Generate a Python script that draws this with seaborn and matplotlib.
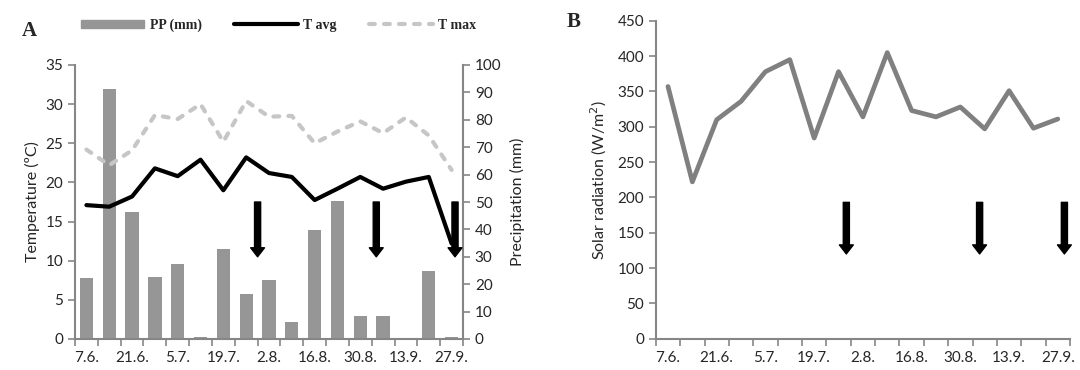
import seaborn as sns
import matplotlib.pyplot as plt
import matplotlib.patches as mpatches
import matplotlib.lines as mlines
import pandas as pd
import numpy as np

# weekly dates (labels shown for every second week)
dates = ["7.6.", "14.6.", "21.6.", "28.6.", "5.7.", "12.7.", "19.7.", "26.7.", "2.8.",
         "9.8.", "16.8.", "23.8.", "30.8.", "6.9.", "13.9.", "20.9.", "27.9."]
pp_mm = [22.3, 91.2, 46.4, 22.6, 27.4, 0.7, 32.8, 16.4, 21.5,
         6.2, 39.8, 50.3, 8.4, 8.4, 0.0, 24.8, 0.7]
t_avg = [17.1, 16.9, 18.2, 21.8, 20.8, 22.9, 19.0, 23.2, 21.2,
         20.7, 17.75, 19.2, 20.7, 19.2, 20.1, 20.7, 12.2]
t_max = [24.2, 22.2, 24.1, 28.6, 28.1, 30.0, 25.2, 30.4, 28.4,
         28.5, 25.0, 26.5, 27.8, 26.3, 28.3, 26.0, 21.6]
solar = [357, 222, 310, 336, 378, 395, 284, 378, 314,
         405, 323, 314, 328, 297, 351, 298, 311]

# sampling arrows (x position in week index)
arrows_a = [7.5, 12.7, 16.15]
arrows_b = [7.32, 12.79, 16.27]

df = pd.DataFrame({"date": dates, "pp": pp_mm, "tavg": t_avg, "tmax": t_max, "solar": solar})
df["pos"] = np.arange(len(dates))

sns.set_style("ticks")
plt.rcParams['font.family'] = ['Lato', 'DejaVu Sans']

axis_grey = "#868686"
bar_grey = "#969696"
tmax_grey = "#c6c6c6"
tmax_dash = (0, (1.4, 2.2))

fig = plt.figure(figsize=(10.8, 3.7), dpi=100)
ax = fig.add_axes([75/1080, 1-339/370, (463-75)/1080, (339-65)/370])
ax2 = ax.twinx()

# precipitation bars on the right axis
sns.barplot(data=df, x="date", y="pp", order=dates, ax=ax2, color=bar_grey,
            saturation=1, width=0.58, linewidth=0)
# temperatures on the left axis
sns.lineplot(data=df, x="pos", y="tavg", ax=ax, color="black", lw=3.0)
sns.lineplot(data=df, x="pos", y="tmax", ax=ax, color=tmax_grey, lw=3.0,
             linestyle=tmax_dash, dash_capstyle="round")

ax.set_zorder(ax2.get_zorder() + 1)
ax.patch.set_visible(False)

ax.set_ylim(0, 35)
ax.set_yticks(range(0, 36, 5))
ax2.set_ylim(0, 100)
ax2.set_yticks(range(0, 101, 10))
ax.set_xlim(-0.5, len(dates) - 0.5)
ax2.set_xlim(-0.5, len(dates) - 0.5)

for x in arrows_a:
    ax.annotate("", xy=(x, 10.5), xytext=(x, 17.5),
                arrowprops=dict(width=4.4, headwidth=10, headlength=6.5, shrink=0,
                                color="black"))

ax.set_ylabel("Temperature (ºC)", fontsize=11.5, labelpad=4)
ax2.set_ylabel("Precipitation (mm)", fontsize=11.5, labelpad=6)
ax.set_xlabel("")
ax2.set_xlabel("")

# panel B
bx = fig.add_axes([655.8/1080, 1-338.7/370, (1070-655.8)/1080, (338.7-20.8)/370])
sns.lineplot(data=df, x="pos", y="solar", ax=bx, color="#808080", lw=3.4)
bx.set_ylim(0, 450)
bx.set_yticks(range(0, 451, 50))
bx.set_xlim(-0.5, len(dates) - 0.5)
for x in arrows_b:
    bx.annotate("", xy=(x, 120), xytext=(x, 193),
                arrowprops=dict(width=4.4, headwidth=10, headlength=6.5, shrink=0,
                                color="black"))
bx.set_ylabel("Solar radiation (W/m$^2$)", fontsize=11.5, labelpad=6)
bx.set_xlabel("")

# shared axis cosmetics
label_pos = np.arange(0, len(dates), 2)
boundaries = np.arange(-0.5, len(dates), 1)
for a in [ax, bx]:
    a.set_xticks(label_pos)
    a.set_xticklabels([dates[i] for i in label_pos])
    a.set_xticks(boundaries, minor=True)
    a.tick_params(axis="x", which="major", length=0, pad=9, labelsize=11)
    a.tick_params(axis="x", which="minor", length=5, width=1.2, color=axis_grey)
for a in [ax, ax2, bx]:
    a.tick_params(axis="y", length=5, width=1.2, color=axis_grey, labelsize=11)
    for s in a.spines.values():
        s.set_color(axis_grey)
        s.set_linewidth(1.5)
    a.spines["top"].set_visible(False)
ax.spines["right"].set_visible(False)
ax2.spines["left"].set_visible(False)
ax2.spines["bottom"].set_visible(False)
ax2.tick_params(axis="x", which="both", length=0, labelbottom=False)
bx.spines["right"].set_visible(False)

# legend above panel A
handles = [mpatches.Patch(color=bar_grey, label="PP (mm)"),
           mlines.Line2D([], [], color="black", lw=3.0, label="T avg"),
           mlines.Line2D([], [], color=tmax_grey, lw=3.0, linestyle=tmax_dash,
                         dash_capstyle="round", label="T max")]
fig.legend(handles=handles, loc="center left", bbox_to_anchor=(68/1080, 1-25/370),
           ncol=3, frameon=False, handlelength=4.6, handleheight=0.5, handletextpad=0.4,
           columnspacing=2.3, prop={"family": "Liberation Serif", "size": 10, "weight": "bold"})

fig.text(22/1080, 1-31/370, "A", fontsize=15, fontweight="bold", family="Liberation Serif",
         va="center")
fig.text(567/1080, 1-22/370, "B", fontsize=15, fontweight="bold", family="Liberation Serif",
         va="center")

fig.savefig("out.png", dpi=100)
